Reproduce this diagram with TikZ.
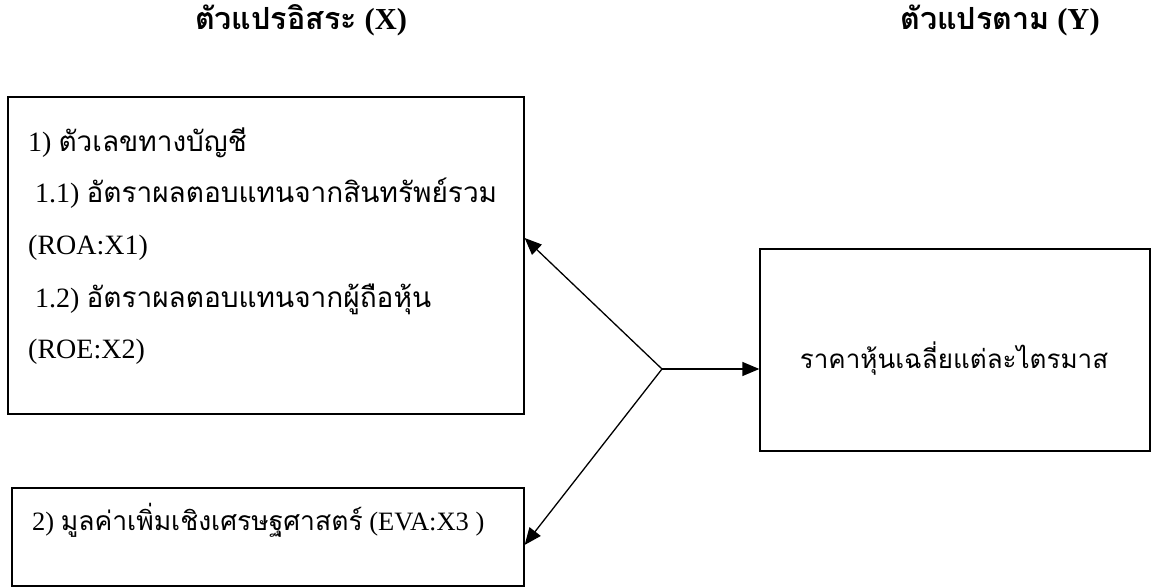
\documentclass[tikz,border=0pt]{standalone}
\usepackage{fontspec}
\setmainfont{Liberation Serif}
\newfontfamily\thai[Script=Thai]{Loma}
\usetikzlibrary{arrows.meta,calc}
\begin{document}
\begin{tikzpicture}[x=1pt,y=-1pt,
  box/.style={draw,line width=1.3pt,rectangle,inner sep=0pt},
  conn/.style={line width=1.3pt,-{Triangle[length=17pt,width=14pt]}},
  txt/.style={inner sep=0pt,anchor=base west,font=\fontsize{28}{32}\selectfont},
  head/.style={inner sep=0pt,anchor=base,font=\fontsize{30.5}{34}\selectfont\bfseries}]
\useasboundingbox (0,0) rectangle (1152,588);
% headings
\node[head] (hx) at (301,30) {{\thai\bfseries ตัวแปรอิสระ} (X)};
\node[head] (hy) at (1000,30) {{\thai\bfseries ตัวแปรตาม} (Y)};
% boxes
\node[box,minimum width=516pt,minimum height=317pt] (b1) at (266,255.5) {};
\node[box,minimum width=512pt,minimum height=98pt] (b2) at (268,537) {};
\node[box,minimum width=390pt,minimum height=202pt] (b3) at (955,350) {};
% box texts
\node[txt] (t1) at (28,152) {1) {\thai ตัวเลขทางบัญชี}};
\node[txt] (t2) at (35,203) {1.1) {\thai อัตราผลตอบแทนจากสินทรัพย์รวม}};
\node[txt] (t3) at (28,255) {(ROA:X1)};
\node[txt] (t4) at (35,308) {1.2) {\thai อัตราผลตอบแทนจากผู้ถือหุ้น}};
\node[txt] (t5) at (28,358) {(ROE:X2)};
\node[txt,font=\fontsize{26.5}{30}\selectfont] (t6) at (32,530) {2) {\thai มูลค่าเพิ่มเชิงเศรษฐศาสตร์} (EVA:X3 )};
\node[txt,anchor=base,font=\fontsize{26}{30}\selectfont] (t7) at (954,368) {\thai ราคาหุ้นเฉลี่ยแต่ละไตรมาส};
% connectors
\coordinate (J) at (662,369);
\draw[conn] (J) -- ($(b1.north east)!0.445!(b1.south east)$);
\draw[conn] (J) -- ($(b2.north east)!0.58!(b2.south east)$);
\draw[conn] (J) -- (J -| b3.west);
\end{tikzpicture}
\end{document}
